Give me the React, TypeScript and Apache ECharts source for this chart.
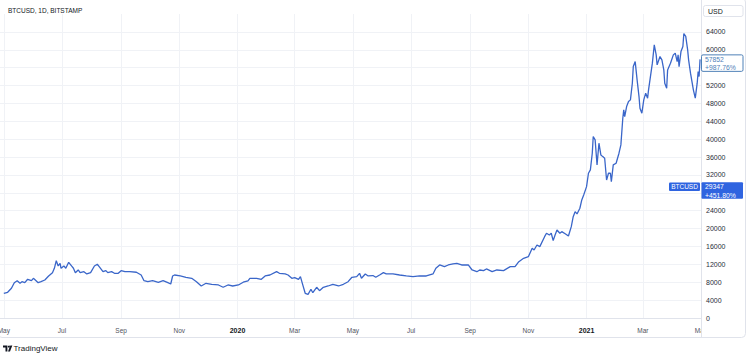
import React, { useEffect, useRef } from 'react';
import * as echarts from 'echarts';

const START = '2019-04-27';
const END = '2021-05-01';

const dates = [
  '2019-05-01','2019-05-05','2019-05-09','2019-05-12','2019-05-15','2019-05-18','2019-05-20','2019-05-23','2019-05-26','2019-05-30',
  '2019-06-01','2019-06-03','2019-06-06','2019-06-09','2019-06-13','2019-06-17','2019-06-21','2019-06-23','2019-06-25','2019-06-27',
  '2019-06-29','2019-06-30','2019-07-03','2019-07-05','2019-07-08','2019-07-11','2019-07-13','2019-07-15','2019-07-18','2019-07-20',
  '2019-07-24','2019-07-27','2019-07-31','2019-08-04','2019-08-07','2019-08-09','2019-08-13','2019-08-16','2019-08-18','2019-08-22',
  '2019-08-25','2019-08-29','2019-09-01','2019-09-05','2019-09-10','2019-09-17','2019-09-22','2019-09-25','2019-09-29','2019-10-04',
  '2019-10-10','2019-10-15','2019-10-20','2019-10-23','2019-10-25','2019-10-27','2019-11-02','2019-11-08','2019-11-14','2019-11-19',
  '2019-11-24','2019-11-29','2019-12-05','2019-12-12','2019-12-17','2019-12-22','2019-12-27','2020-01-02','2020-01-07','2020-01-12',
  '2020-01-14','2020-01-21','2020-01-26','2020-01-30','2020-02-04','2020-02-11','2020-02-14','2020-02-20','2020-02-23','2020-02-27',
  '2020-03-01','2020-03-05','2020-03-07','2020-03-09','2020-03-12','2020-03-15','2020-03-18','2020-03-20','2020-03-24','2020-03-27',
  '2020-03-31','2020-04-05','2020-04-10','2020-04-16','2020-04-21','2020-04-26','2020-04-30','2020-05-05','2020-05-08','2020-05-10',
  '2020-05-14','2020-05-17','2020-05-22','2020-05-25','2020-05-29','2020-06-02','2020-06-05','2020-06-12','2020-06-19','2020-06-26',
  '2020-07-03','2020-07-10','2020-07-17','2020-07-24','2020-07-27','2020-07-31','2020-08-05','2020-08-09','2020-08-14','2020-08-18',
  '2020-08-23','2020-08-30','2020-09-03','2020-09-08','2020-09-11','2020-09-15','2020-09-18','2020-09-24','2020-09-29','2020-10-06',
  '2020-10-13','2020-10-18','2020-10-22','2020-10-27','2020-11-01','2020-11-05','2020-11-07','2020-11-10','2020-11-13','2020-11-18',
  '2020-11-20','2020-11-23','2020-11-25','2020-11-27','2020-11-29','2020-12-01','2020-12-04','2020-12-06','2020-12-10','2020-12-13',
  '2020-12-16','2020-12-18','2020-12-20','2020-12-22','2020-12-25','2020-12-27','2020-12-29','2021-01-01','2021-01-03','2021-01-05',
  '2021-01-07','2021-01-08','2021-01-10','2021-01-12','2021-01-14','2021-01-16','2021-01-18','2021-01-20','2021-01-22','2021-01-24',
  '2021-01-26','2021-01-27','2021-01-29','2021-02-01','2021-02-04','2021-02-06','2021-02-08','2021-02-09','2021-02-10','2021-02-12',
  '2021-02-14','2021-02-16','2021-02-18','2021-02-19','2021-02-21','2021-02-23','2021-02-25','2021-02-26','2021-02-28','2021-03-02',
  '2021-03-04','2021-03-06','2021-03-07','2021-03-11','2021-03-13','2021-03-15','2021-03-16','2021-03-19','2021-03-21','2021-03-23',
  '2021-03-24','2021-03-26','2021-03-27','2021-03-30','2021-04-02','2021-04-04','2021-04-06','2021-04-07','2021-04-08','2021-04-10',
  '2021-04-12','2021-04-13','2021-04-15','2021-04-17','2021-04-18','2021-04-20','2021-04-23','2021-04-25','2021-04-27','2021-04-28',
  '2021-04-29','2021-04-30'
];

const prices = [
  5530, 5750, 6650, 7900, 8350, 7760, 8120, 7900, 8660, 8350,
  8880, 8500, 7900, 8120, 8500, 9400, 10140, 11120, 12820, 11640,
  12240, 11120, 11640, 11120, 12460, 11640, 11120, 10140, 10740, 10140,
  10360, 9850, 10140, 11640, 12020, 11480, 10360, 10590, 10140, 10360,
  10000, 10000, 10590, 10360, 10360, 10230, 9620, 8350, 8120, 8350,
  7990, 8350, 7900, 7610, 9400, 9620, 9400, 9110, 8880, 8120,
  7160, 7760, 7540, 7390, 6870, 7390, 7160, 7390, 8000, 8300,
  8880, 8880, 8660, 9400, 9620, 10360, 10000, 9850, 9620, 8880,
  9020, 8660, 9240, 7760, 5530, 5300, 6420, 5660, 6870, 6110,
  6870, 7160, 7540, 7160, 7540, 8120, 9110, 9240, 10000, 8880,
  9850, 9400, 9500, 9110, 9620, 10140, 9850, 9850, 9620, 9400,
  9240, 9400, 9400, 9850, 11120, 11860, 11480, 11860, 12090, 12240,
  11860, 11860, 10740, 10360, 10740, 10590, 10970, 10360, 10740, 10590,
  11480, 11480, 12600, 13360, 13720, 15600, 15220, 16340, 15960, 18190,
  18960, 18580, 18960, 17300, 18580, 19690, 18960, 19310, 18800, 18350,
  20430, 22670, 23790, 23280, 24550, 26410, 27530, 29380, 32380, 33120,
  36860, 40580, 39840, 34240, 39100, 36480, 36100, 35740, 30880, 32380,
  32380, 30500, 34240, 34620, 36860, 38720, 44690, 46550, 45050, 47290,
  48410, 48790, 52520, 56240, 57360, 53260, 49530, 46930, 45810, 48790,
  50290, 49170, 51030, 57000, 61100, 58860, 56620, 58480, 57740, 55500,
  52520, 51410, 55500, 57000, 58860, 59240, 57360, 58860, 56240, 59600,
  60720, 63600, 63000, 59980, 57740, 54760, 51030, 49170, 52520, 55130,
  54000, 57852
];

const monthNames = ['Jan', 'Feb', 'Mar', 'Apr', 'May', 'Jun', 'Jul', 'Aug', 'Sep', 'Oct', 'Nov', 'Dec'];

const TITLE = 'BTCUSD, 1D, BITSTAMP';
const CURRENCY = 'USD';
const lastPrice = 57852;
const lastChange = '+987.76%';
const compareName = 'BTCUSD';
const comparePrice = 29347;
const compareChange = '+451.80%';

const FONT = '"Liberation Sans", Arial, sans-serif';

function buildDays(start: string, end: string): string[] {
  const out: string[] = [];
  const d = new Date(start + 'T00:00:00Z');
  const e = new Date(end + 'T00:00:00Z');
  while (d.getTime() <= e.getTime()) {
    out.push(d.toISOString().slice(0, 10));
    d.setUTCDate(d.getUTCDate() + 1);
  }
  return out;
}

const isTick = (_i: number, v: string) =>
  v.slice(8) === '01' && (+v.slice(5, 7)) % 2 === 1;

// price-scale labels hidden behind the two price boxes
const coveredByBox = (v: number) =>
  [lastPrice, comparePrice].some((p) => v > p - 2700 && v < p + 1000);

export default function App() {
  const ref = useRef<HTMLDivElement>(null);
  useEffect(() => {
    const el = ref.current!;
    const chart = echarts.init(el, null, { renderer: 'svg' });
    const categories = buildDays(START, END);
    const index = new Map(categories.map((d, i) => [d, i]));
    const data = dates.map((d, i) => [index.get(d), prices[i]]);

    chart.setOption({
      animation: false,
      backgroundColor: '#ffffff',
      grid: { left: 0, right: 49, top: 14, bottom: 39, containLabel: false, outerBoundsMode: 'none' },
      xAxis: {
        type: 'category',
        data: categories,
        boundaryGap: false,
        axisLine: { show: true, lineStyle: { color: '#e0e3eb', width: 1 } },
        axisTick: { show: false },
        splitLine: { show: true, interval: isTick, lineStyle: { color: '#f0f2f6', width: 1 } },
        axisLabel: {
          interval: isTick,
          margin: 9,
          color: '#50535e',
          fontSize: 6.5,
          fontFamily: FONT,
          alignMinLabel: 'center',
          alignMaxLabel: 'center',
          hideOverlap: false,
          formatter: (v: string) => {
            const m = +v.slice(5, 7);
            if (m === 1) return '{y|' + v.slice(0, 4) + '}';
            return monthNames[m - 1];
          },
          rich: { y: { fontWeight: 'bold', color: '#131722', fontSize: 7, fontFamily: FONT } },
        },
      },
      yAxis: {
        type: 'value',
        position: 'right',
        min: 0,
        max: 68000,
        interval: 4000,
        axisLine: { show: false },
        axisTick: { show: false },
        axisLabel: {
          showMaxLabel: false,
          color: '#2a2e39',
          fontSize: 7,
          margin: 5,
          fontFamily: FONT,
          formatter: (v: number) => (coveredByBox(v) ? '' : String(v)),
        },
        splitLine: { show: true, showMaxLine: false, lineStyle: { color: '#f0f2f6', width: 1 } },
      },
      series: [
        {
          type: 'line',
          data,
          showSymbol: false,
          symbol: 'none',
          silent: true,
          lineStyle: { color: '#3a66c9', width: 1.3 },
        },
      ],
    });

    const yLast = chart.convertToPixel({ yAxisIndex: 0 }, lastPrice) as number;
    const yCmp = chart.convertToPixel({ yAxisIndex: 0 }, comparePrice) as number;
    const blue = '#2f64e0';
    const steel = '#4f81b8';
    const txt = (text: string, x: number, y: number, fill: string, size: number, extra: any = {}) => ({
      type: 'text', x, y, z: 120,
      style: { text, fill, fontSize: size, fontFamily: FONT, align: 'left', verticalAlign: 'middle', ...extra },
    });

    chart.setOption({
      graphic: [
        { type: 'rect', z: 110, shape: { x: 701.5, y: 321.5, width: 43, height: 15 }, style: { fill: '#ffffff' } },
        { type: 'line', z: 111, shape: { x1: 701.5, y1: 0, x2: 701.5, y2: 337 }, style: { stroke: '#e0e3eb', lineWidth: 1 } },
        { type: 'rect', z: 112, shape: { x: -2, y: -2, width: 747.5, height: 339.5, r: 4 }, style: { fill: 'none', stroke: '#e0e3eb', lineWidth: 1 } },
        txt(TITLE, 8, 10, '#131722', 6.5),
        { type: 'rect', z: 115, shape: { x: 703.5, y: 5.5, width: 39.5, height: 11, r: 2 }, style: { fill: '#ffffff', stroke: '#e0e3eb', lineWidth: 1 } },
        txt(CURRENCY, 708, 11, '#131722', 7),
        { type: 'rect', z: 115, shape: { x: 701.5, y: yLast - 4.5, width: 41.5, height: 16.5, r: 1.5 }, style: { fill: '#ffffff', stroke: steel, lineWidth: 1 } },
        txt(String(lastPrice), 705, yLast, steel, 6.8),
        txt(lastChange, 705, yLast + 8.6, steel, 6.8),
        { type: 'rect', z: 115, shape: { x: 669, y: yCmp - 4.3, width: 31, height: 8.5, r: 1 }, style: { fill: blue } },
        txt(compareName, 684.5, yCmp, '#ffffff', 6.5, { align: 'center' }),
        { type: 'rect', z: 115, shape: { x: 701.5, y: yCmp - 4.5, width: 41.5, height: 16.5, r: 1 }, style: { fill: blue } },
        txt(String(comparePrice), 705, yCmp, '#ffffff', 6.8),
        txt(compareChange, 705, yCmp + 8.6, '#ffffff', 6.8),
        { type: 'polygon', z: 115, shape: { points: [[3, 345.6], [7.4, 345.6], [7.4, 351.4], [5.5, 351.4], [5.5, 347.4], [3, 347.4]] }, style: { fill: '#131722' } },
        { type: 'circle', z: 115, shape: { cx: 8.9, cy: 346.6, r: 1 }, style: { fill: '#131722' } },
        { type: 'polygon', z: 115, shape: { points: [[10.3, 345.6], [12.3, 345.6], [10, 351.4], [8, 351.4]] }, style: { fill: '#131722' } },
        txt('TradingView', 13.5, 348.6, '#131722', 8),
      ],
    });

    return () => chart.dispose();
  }, []);

  return (
    <div
      ref={ref}
      style={{ position: 'fixed', left: 0, top: 0, width: 750, height: 357, background: '#ffffff' }}
    />
  );
}
